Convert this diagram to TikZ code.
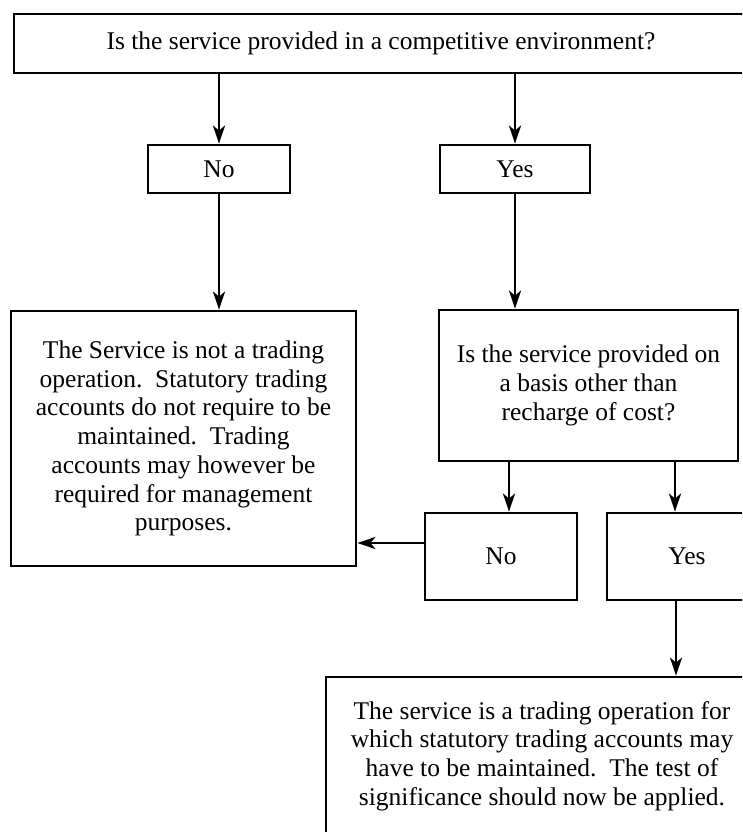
\documentclass[tikz,border=0pt]{standalone}
\usepackage{fontspec}
\setmainfont{Liberation Serif}
\usetikzlibrary{arrows.meta}
\begin{document}
\begin{tikzpicture}[x=1pt,y=-1pt,
  box/.style={draw,line width=2.8pt,align=center,inner sep=0pt,font=\fontsize{25.5}{28.7}\selectfont},
  arr/.style={line width=2.8pt,-{Stealth[length=18pt,width=12pt,inset=5pt]}}]
\useasboundingbox (0,0) rectangle (742,832);
\clip (0,0) rectangle (742,832);
\node[box,minimum width=734,minimum height=59] (top) at (381,43.5) {Is the service provided in a competitive environment?};
\node[box,minimum width=142,minimum height=48] (no1) at (219,169) {No};
\node[box,minimum width=150,minimum height=48] (yes1) at (515,169) {Yes};
\node[box,minimum width=345,minimum height=255] (left) at (183.5,438.5) {The Service is not a trading\\operation.\ \ Statutory trading\\accounts do not require to be\\maintained.\ \ Trading\\accounts may however be\\required for management\\purposes.};
\node[box,minimum width=299,minimum height=151] (q) at (588.5,385.5) {Is the service provided on\\a basis other than\\recharge of cost?};
\node[box,minimum width=152,minimum height=87] (no2) at (501,556.5) {No};
\node[box,minimum width=160,minimum height=87] (yes2) at (687,556.5) {Yes};
\node[box,minimum width=432,minimum height=158] (bot) at (542,756) {The service is a trading operation for\\which statutory trading accounts may\\have to be maintained.\ \ The test of\\significance should now be applied.};
\draw[arr] (no1.north |- top.south) -- (no1.north);
\draw[arr] (yes1.north |- top.south) -- (yes1.north);
\draw[arr] (no1.south) -- (no1.south |- left.north);
\draw[arr] (yes1.south) -- (yes1.south |- q.north);
\draw[arr] ([xshift=8pt]no2.north |- q.south) -- ([xshift=8pt]no2.north);
\draw[arr] ([xshift=-12pt]yes2.north |- q.south) -- ([xshift=-12pt]yes2.north);
\draw[arr] ([yshift=13.5pt]no2.west) -- ([yshift=13.5pt]no2.west -| left.east);
\draw[arr] ([xshift=-11pt]yes2.south) -- ([xshift=-11pt]yes2.south |- bot.north);
\end{tikzpicture}
\end{document}
